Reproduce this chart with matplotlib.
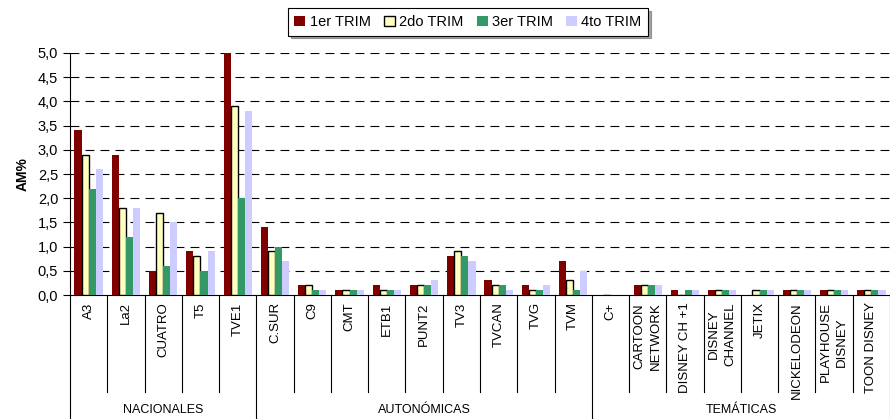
import numpy as np
import matplotlib.pyplot as plt
from matplotlib.ticker import FuncFormatter
import matplotlib.transforms as mtransforms

plt.rcParams["font.family"] = ["Liberation Sans", "DejaVu Sans"]

canales = ["A3", "La2", "CUATRO", "T5", "TVE1",
           "C.SUR", "C9", "CMT", "ETB1", "PUNT2", "TV3", "TVCAN", "TVG", "TVM",
           "C+", "CARTOON\nNETWORK", "DISNEY CH +1", "DISNEY\nCHANNEL", "JETIX",
           "NICKELODEON", "PLAYHOUSE\nDISNEY", "TOON DISNEY"]
grupos = ["NACIONALES", "AUTONÓMICAS", "TEMÁTICAS"]
grupo_n = [5, 9, 8]

series = ["1er TRIM", "2do TRIM", "3er TRIM", "4to TRIM"]
trim1 = [3.4, 2.9, 0.5, 0.9, 5.0, 1.4, 0.2, 0.1, 0.2, 0.2, 0.8, 0.3, 0.2, 0.7,
         0.0, 0.2, 0.1, 0.1, 0.0, 0.1, 0.1, 0.1]
trim2 = [2.9, 1.8, 1.7, 0.8, 3.9, 0.9, 0.2, 0.1, 0.1, 0.2, 0.9, 0.2, 0.1, 0.3,
         0.0, 0.2, 0.0, 0.1, 0.1, 0.1, 0.1, 0.1]
trim3 = [2.2, 1.2, 0.6, 0.5, 2.0, 1.0, 0.1, 0.1, 0.1, 0.2, 0.8, 0.2, 0.1, 0.1,
         0.0, 0.2, 0.1, 0.1, 0.1, 0.1, 0.1, 0.1]
trim4 = [2.6, 1.8, 1.5, 0.9, 3.8, 0.7, 0.1, 0.1, 0.1, 0.3, 0.7, 0.1, 0.2, 0.5,
         0.0, 0.2, 0.1, 0.1, 0.1, 0.1, 0.1, 0.1]

colors = ["#800000", "#FFFFC0", "#339966", "#CCCCFF"]
edges = ["#800000", "black", "#339966", "#CCCCFF"]

fig = plt.figure(figsize=(8.9, 4.19), dpi=100)
ax = fig.add_axes([70 / 890, 124 / 419, 820 / 890, 242 / 419])

x = np.arange(len(canales))
w = 0.19
for i, vals in enumerate([trim1, trim2, trim3, trim4]):
    ax.bar(x + (i - 1.5) * w, vals, w, color=colors[i], edgecolor=edges[i],
           linewidth=1.0 if i == 1 else 0, label=series[i], zorder=3)

ax.set_xlim(-0.5, len(canales) - 0.5)
ax.set_ylim(0, 5)
ax.set_yticks(np.arange(0, 5.01, 0.5))
ax.yaxis.set_major_formatter(FuncFormatter(lambda v, p: f"{v:.1f}".replace(".", ",")))
ax.tick_params(axis="y", length=5, width=0.8, labelsize=10.5, direction="out")
ax.set_ylabel("AM%", fontsize=10, fontweight="bold", labelpad=6)

for yv in np.arange(0.5, 5.01, 0.5):
    ax.axhline(yv, color="black", lw=0.8, ls=(0, (8, 5.5)), zorder=1)

ax.set_xticks([])
for s in ["top", "right"]:
    ax.spines[s].set_visible(False)
ax.spines["left"].set_linewidth(0.8)
ax.spines["bottom"].set_linewidth(0.8)

# category labels and separators below the axis
trans = mtransforms.blended_transform_factory(ax.transData, ax.transAxes)
for i, name in enumerate(canales):
    ax.text(i, -0.03, name, rotation=90, ha="center", va="top",
            fontsize=9.5, transform=trans, linespacing=1.45)

sep_low = -0.40
bottom = -0.52
bounds = np.cumsum([0] + grupo_n) - 0.5
for b in np.arange(-0.5, len(canales)):
    if b in bounds:
        ax.plot([b, b], [0, bottom], color="black", lw=0.8, transform=trans, clip_on=False)
    else:
        ax.plot([b, b], [0, sep_low], color="black", lw=0.8, transform=trans, clip_on=False)

for g, name in enumerate(grupos):
    mid = (bounds[g] + bounds[g + 1]) / 2
    ax.text(mid, -0.475, name, ha="center", va="center", fontsize=9,
            transform=trans)

leg = fig.legend(loc="center", bbox_to_anchor=(468 / 890, 1 - 22 / 419), ncol=4,
                 fontsize=10.5, frameon=True, fancybox=False, shadow=True,
                 handlelength=0.75, handleheight=0.75, handletextpad=0.3,
                 columnspacing=0.9, borderpad=0.45, edgecolor="black")
leg.get_frame().set_linewidth(0.8)

fig.savefig("out.png", dpi=100)
